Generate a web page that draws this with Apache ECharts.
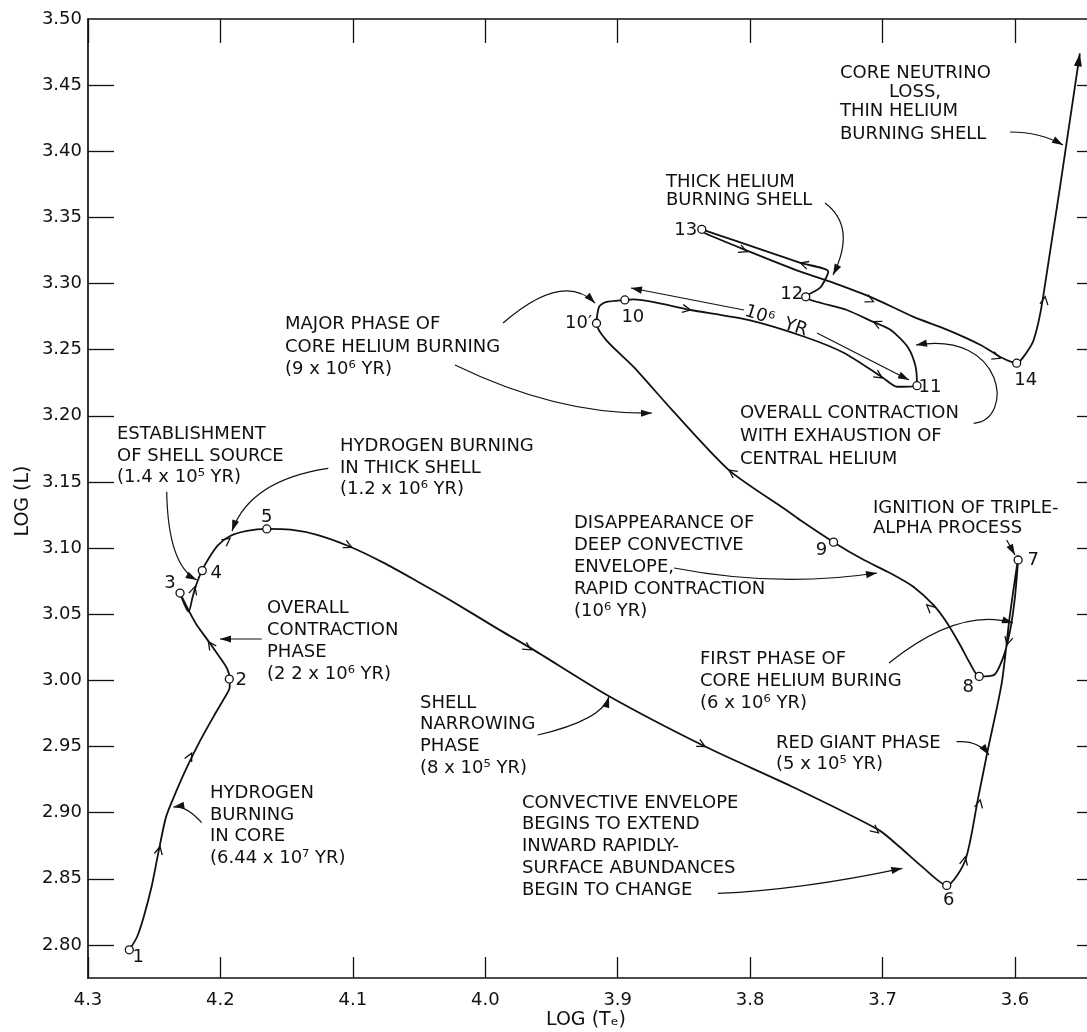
<!DOCTYPE html>
<html><head><meta charset="utf-8">
<script src="https://cdn.jsdelivr.net/npm/echarts@6/dist/echarts.min.js"></script>
<style>html,body{margin:0;padding:0;background:#fff}#c{width:1087px;height:1032px}</style>
</head><body><div id="c"></div>
<script>
// ---------------- DATA ----------------
const xTickValues = [4.3, 4.2, 4.1, 4.0, 3.9, 3.8, 3.7, 3.6];
const yTickValues = [2.80, 2.85, 2.90, 2.95, 3.00, 3.05, 3.10, 3.15, 3.20, 3.25, 3.30, 3.35, 3.40, 3.45];
const yLabelValues = [2.80, 2.85, 2.90, 2.95, 3.00, 3.05, 3.10, 3.15, 3.20, 3.25, 3.30, 3.35, 3.40, 3.45, 3.50];

// evolutionary track (log Te, log L), in time order
const trackLogTe = [4.269,4.263,4.258,4.252,4.247,4.241,4.233,4.225,4.215,4.205,4.198,4.193,
  4.193,4.195,4.203,4.210,4.218,4.223,4.2305,4.224,4.221,4.218,
  4.214,4.209,4.202,4.193,4.180,
  4.165,4.147,4.127,4.102,4.077,4.0516,4.027,3.989,3.965,3.9065,3.834,3.769,3.703,3.687,3.670,
  3.6515,3.6375,3.628,3.621,3.610,3.604,3.5986,
  3.5976,3.600,3.6036,3.6087,3.616,
  3.627,3.634,3.641,3.651,3.6616,3.677,3.694,3.714,
  3.737,3.762,3.773,3.816,3.859,3.888,3.9085,
  3.916,3.914,3.909,
  3.8946,3.888,3.845,3.8015,3.7585,3.729,3.700,3.689,
  3.674,3.675,3.681,3.694,3.707,3.727,
  3.758,3.747,3.741,3.762,3.813,
  3.8365,3.834,3.800,3.762,3.737,3.707,3.677,3.651,3.626,3.611,
  3.5987,3.594,3.586,3.579,3.551];
const trackLogL = [2.796,2.806,2.821,2.844,2.869,2.897,2.917,2.935,2.955,2.973,2.985,2.995,
  3.001,3.009,3.021,3.031,3.042,3.051,3.066,3.052,3.063,3.073,
  3.083,3.092,3.102,3.109,3.113,
  3.1145,3.114,3.110,3.101,3.089,3.075,3.061,3.038,3.024,2.988,2.950,2.920,2.887,2.874,2.859,
  2.845,2.864,2.910,2.945,2.998,3.048,3.086,
  3.091,3.063,3.038,3.018,3.004,
  3.003,3.013,3.026,3.043,3.057,3.071,3.081,3.091,
  3.1045,3.121,3.129,3.159,3.2045,3.237,3.257,
  3.270,3.2825,3.286,
  3.2876,3.288,3.280,3.2725,3.2596,3.2475,3.229,3.222,
  3.2228,3.237,3.252,3.265,3.271,3.280,
  3.290,3.297,3.309,3.3156,3.333,
  3.341,3.338,3.324,3.309,3.3005,3.289,3.275,3.265,3.2536,3.2445,
  3.2398,3.244,3.257,3.288,3.474];

// numbered phase points
const pointNames = ['1','2','3','4','5','6','7','8','9','10\u2032','10','11','12','13','14'];
const pointLogTe = [4.2688,4.1933,4.2305,4.2137,4.1650,3.6515,3.5976,3.6270,3.7370,3.9160,3.8946,3.6740,3.7580,3.8365,3.5987];
const pointLogL  = [2.7963,3.0010,3.0660,3.0830,3.1145,2.8450,3.0910,3.0030,3.1045,3.2700,3.2876,3.2228,3.2900,3.3410,3.2398];

// direction arrows along the track
const arrowLogTe = [4.2456,4.2217,4.2091,4.2192,4.1927,4.1008,3.9654,3.834,3.703,3.6376,3.6263,3.6061,3.6666,3.816,3.845,3.7003,3.7069,3.762,3.8025,3.7069,3.6112,3.5772];
const arrowLogL  = [2.8744,2.945,3.0293,3.0709,3.1075,3.1005,3.0231,2.950,2.8847,2.8666,2.9097,3.0268,3.0571,3.159,3.280,3.2287,3.2712,3.3156,3.3241,3.2863,3.2435,3.2901];

// ---------------- LAYOUT / STYLE ----------------
const INK = '#111';
const FONT = '"DejaVu Sans", sans-serif';
const NOTE_FONT = '18px ' + FONT;
const X_MIN = 3.5456; // right edge of the visible plot
const labelOffsets = {
  '1':[9,8],'2':[12,1],'3':[-10,-10],'4':[14,3],'5':[0,-12],'6':[2,15],'7':[15,0],'8':[-11,11],
  '9':[-12,8],'10\u2032':[-18,0],'10':[8,17],'11':[13,2],'12':[-14,-2],'13':[-16,1],'14':[9,17]
};
// annotation text blocks: [x, [centerY...], lines]
const notes = [
  [210, [793,815,836,858], ['HYDROGEN','BURNING','IN CORE','(6.44 x 10\u2077 YR)']],
  [267, [608,630,652,674], ['OVERALL','CONTRACTION','PHASE','(2 2 x 10\u2076 YR)']],
  [117, [434,456,477], ['ESTABLISHMENT','OF SHELL SOURCE','(1.4 x 10\u2075 YR)']],
  [340, [446,468,489], ['HYDROGEN BURNING','IN THICK SHELL','(1.2 x 10\u2076 YR)']],
  [285, [324,347,369], ['MAJOR PHASE OF','CORE HELIUM BURNING','(9 x 10\u2076 YR)']],
  [666, [182,200], ['THICK HELIUM','BURNING SHELL']],
  [840, [73,null,111,134], ['CORE NEUTRINO',null,'THIN HELIUM','BURNING SHELL']],
  [740, [413,436,459], ['OVERALL CONTRACTION','WITH EXHAUSTION OF','CENTRAL HELIUM']],
  [574, [523,545,567,589,611], ['DISAPPEARANCE OF','DEEP CONVECTIVE','ENVELOPE,','RAPID CONTRACTION','(10\u2076 YR)']],
  [873, [508,528], ['IGNITION OF TRIPLE-','ALPHA PROCESS']],
  [700, [659,681,703], ['FIRST PHASE OF','CORE HELIUM BURING','(6 x 10\u2076 YR)']],
  [776, [743,764], ['RED GIANT PHASE','(5 x 10\u2075 YR)']],
  [420, [703,724,746,768], ['SHELL','NARROWING','PHASE','(8 x 10\u2075 YR)']],
  [522, [803,824,846,868,890], ['CONVECTIVE ENVELOPE','BEGINS TO EXTEND','INWARD RAPIDLY-','SURFACE ABUNDANCES','BEGIN TO CHANGE']]
];
// leader curves: line (4), quadratic (6) or cubic (8) numbers; arrowhead at the end
const leaders = [
  [201.7,822.7, 186,805, 173.3,807],
  [261.7,639, 220,639],
  [166.7,491.7, 168,565, 196.7,580],
  [328.3,468.3, 250,480, 232,531],
  [503,323, 563,271, 595,303],
  [455,365, 558,415, 652,413],
  [825,203, 857,227, 833,275],
  [1010,132, 1040,132, 1063,145],
  [973.7,423.3, 1015,420, 1005,330, 916,345],
  [674,568, 778,588, 877,573],
  [1006.7,540, 1015,555],
  [889,663, 959,607, 1013,623],
  [956.5,741.7, 978,740, 989,755],
  [537.7,735, 601.8,720, 609,696.7],
  [717.8,893.3, 800,890, 902.3,868.3],
  [744,310, 631,288],
  [817,333, 909,380]
];

const chart = echarts.init(document.getElementById('c'), null, {renderer:'canvas'});

function nearestDir(px, py, pts) {
  let best = Infinity, dir = [1, 0];
  for (let i = 0; i < pts.length - 1; i++) {
    const a = pts[i], b = pts[i + 1];
    const dx = b[0] - a[0], dy = b[1] - a[1], L2 = dx * dx + dy * dy;
    if (!L2) continue;
    let t = ((px - a[0]) * dx + (py - a[1]) * dy) / L2;
    t = Math.max(0, Math.min(1, t));
    const qx = a[0] + t * dx, qy = a[1] + t * dy, d = (px - qx) ** 2 + (py - qy) ** 2;
    if (d < best) { best = d; const L = Math.sqrt(L2); dir = [dx / L, dy / L]; }
  }
  return dir;
}

const xCommon = {
  type: 'value', min: X_MIN, max: 4.3, inverse: true,
  splitLine: {show: false},
  axisLine: {show: true, onZero: false, lineStyle: {color: INK, width: 1.7}},
  axisTick: {show: true, inside: true, length: 21, customValues: xTickValues, lineStyle: {color: INK, width: 1.3}}
};
const yCommon = {
  type: 'value', min: 2.775, max: 3.5, splitLine: {show: false},
  axisTick: {show: true, inside: true, length: 26, customValues: yTickValues, lineStyle: {color: INK, width: 1.3}}
};

chart.setOption({
  animation: false,
  backgroundColor: '#fff',
  grid: {left: 88, top: 19, right: 0, bottom: 54, containLabel: false},
  xAxis: [
    Object.assign({}, xCommon, {position: 'bottom',
      axisLabel: {show: true, customValues: xTickValues, margin: 13, color: INK, fontSize: 18, fontFamily: FONT,
        formatter: v => Number(v).toFixed(1)}}),
    Object.assign({}, xCommon, {position: 'top', axisTick: Object.assign({}, xCommon.axisTick, {length: 24}),
      axisLabel: {show: false}})
  ],
  yAxis: [
    Object.assign({}, yCommon, {position: 'left',
      axisLine: {show: true, onZero: false, lineStyle: {color: INK, width: 1.7}},
      axisLabel: {show: true, customValues: yLabelValues, margin: 6, color: INK, fontSize: 18, fontFamily: FONT,
        formatter: v => Number(v).toFixed(2)}}),
    Object.assign({}, yCommon, {position: 'right', offset: 0,
      axisTick: Object.assign({}, yCommon.axisTick, {length: 10}),
      axisLine: {show: false}, axisLabel: {show: false}})
  ],
  series: [
    {
      type: 'line', name: 'track', xAxisIndex: 0, yAxisIndex: 0,
      data: trackLogTe.map((t, i) => [t, trackLogL[i]]),
      showSymbol: false, symbol: 'none', smooth: 0.25,
      lineStyle: {color: INK, width: 1.8}, z: 3
    },
    {
      type: 'custom', name: 'direction', coordinateSystem: 'cartesian2d',
      data: arrowLogTe.map((t, i) => [t, arrowLogL[i]]),
      renderItem: function (params, api) {
        const p = api.coord([api.value(0), api.value(1)]);
        const pts = trackLogTe.map((t, i) => api.coord([t, trackLogL[i]]));
        const d = nearestDir(p[0], p[1], pts);
        const n = [-d[1], d[0]], L = 8, W = 4;
        return {type: 'polyline', shape: {points: [
          [p[0] - L * d[0] + W * n[0], p[1] - L * d[1] + W * n[1]], p,
          [p[0] - L * d[0] - W * n[0], p[1] - L * d[1] - W * n[1]]]},
          style: {stroke: INK, lineWidth: 1.3, fill: null}};
      }, z: 4
    },
    {
      type: 'custom', name: 'end', coordinateSystem: 'cartesian2d',
      data: [[trackLogTe[trackLogTe.length - 1], trackLogL[trackLogL.length - 1]]],
      renderItem: function (params, api) {
        const n1 = trackLogTe.length - 1;
        const p = api.coord([trackLogTe[n1], trackLogL[n1]]);
        const q = api.coord([trackLogTe[n1 - 1], trackLogL[n1 - 1]]);
        let dx = p[0] - q[0], dy = p[1] - q[1]; const l = Math.hypot(dx, dy); dx /= l; dy /= l;
        const L = 13, W = 4;
        return {type: 'polygon', shape: {points: [p,
          [p[0] - L * dx - W * dy, p[1] - L * dy + W * dx],
          [p[0] - L * dx + W * dy, p[1] - L * dy - W * dx]]}, style: {fill: INK}};
      }, z: 4
    },
    {
      type: 'scatter', name: 'phases',
      data: pointLogTe.map((t, i) => ({value: [t, pointLogL[i]],
        label: {offset: labelOffsets[pointNames[i]] || [0, 0]}})),
      symbol: 'circle', symbolSize: 8,
      itemStyle: {color: '#fff', borderColor: INK, borderWidth: 1.3, opacity: 1},
      label: {show: true, color: INK, fontSize: 18, fontFamily: FONT, position: 'inside',
        align: 'center', verticalAlign: 'middle',
        textBorderWidth: 0, formatter: p => pointNames[p.dataIndex]},
      emphasis: {disabled: true},
      z: 5
    }
  ]
});

// ---------------- annotations ----------------
const g = [];
function txt(x, y, s, align) {
  g.push({type: 'text', x: x, y: y, z: 10,
    style: {text: s, fill: INK, font: NOTE_FONT, textAlign: align || 'left', align: align || 'left',
      textVerticalAlign: 'middle', verticalAlign: 'middle'}});
}
notes.forEach(n => n[2].forEach((s, i) => { if (s) txt(n[0], n[1][i], s); }));
txt(915, 92, 'LOSS,', 'center');
// rotated "10^6 YR"
g.push({type: 'text', x: 776, y: 321, rotation: -0.32, z: 10,
  style: {text: '10\u2076  YR', fill: INK, font: NOTE_FONT, textAlign: 'center', align: 'center', textVerticalAlign: 'middle', verticalAlign: 'middle'}});
// axis titles
g.push({type: 'text', x: 586, y: 1020, z: 10,
  style: {text: 'LOG (T\u2091)', fill: INK, font: '19px ' + FONT, textAlign: 'center', align: 'center', textVerticalAlign: 'middle', verticalAlign: 'middle'}});
g.push({type: 'text', x: 23, y: 501, rotation: Math.PI / 2, z: 10,
  style: {text: 'LOG (L)', fill: INK, font: '19px ' + FONT, textAlign: 'center', align: 'center', textVerticalAlign: 'middle', verticalAlign: 'middle'}});

leaders.forEach(s => {
  let ex, ey, tx, ty;
  if (s.length === 4) {
    g.push({type: 'line', z: 9, shape: {x1: s[0], y1: s[1], x2: s[2], y2: s[3]}, style: {stroke: INK, lineWidth: 1.2}});
    ex = s[2]; ey = s[3]; tx = s[2] - s[0]; ty = s[3] - s[1];
  } else if (s.length === 6) {
    g.push({type: 'bezierCurve', z: 9, shape: {x1: s[0], y1: s[1], cpx1: s[2], cpy1: s[3], x2: s[4], y2: s[5]}, style: {stroke: INK, lineWidth: 1.2, fill: null}});
    ex = s[4]; ey = s[5]; tx = s[4] - s[2]; ty = s[5] - s[3];
  } else {
    g.push({type: 'bezierCurve', z: 9, shape: {x1: s[0], y1: s[1], cpx1: s[2], cpy1: s[3], cpx2: s[4], cpy2: s[5], x2: s[6], y2: s[7]}, style: {stroke: INK, lineWidth: 1.2, fill: null}});
    ex = s[6]; ey = s[7]; tx = s[6] - s[4]; ty = s[7] - s[5];
  }
  const l = Math.hypot(tx, ty); tx /= l; ty /= l;
  const L = 11, W = 3.6;
  g.push({type: 'polygon', z: 9, shape: {points: [[ex, ey], [ex - L * tx - W * ty, ey - L * ty + W * tx], [ex - L * tx + W * ty, ey - L * ty - W * tx]]}, style: {fill: INK}});
});
chart.setOption({graphic: {elements: g}});
</script>
</body></html>
